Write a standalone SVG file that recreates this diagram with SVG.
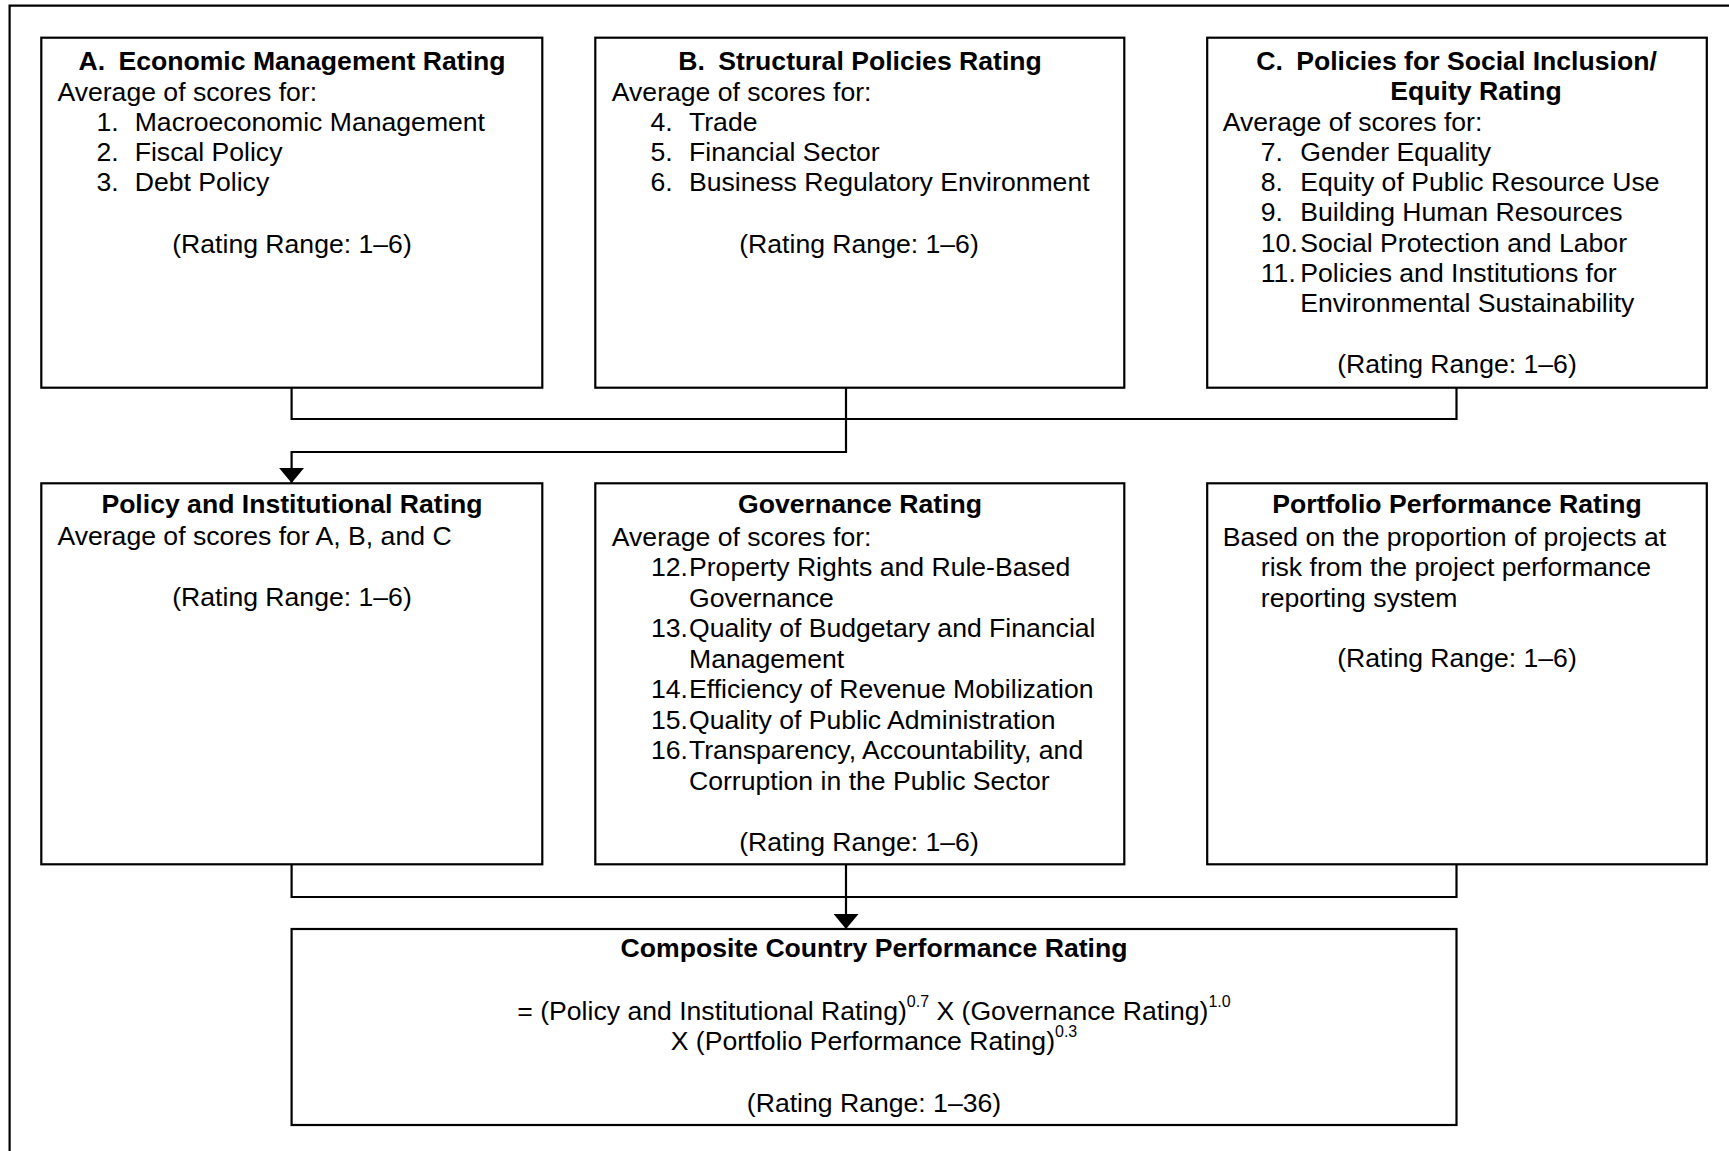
<svg xmlns="http://www.w3.org/2000/svg" width="1729" height="1151" viewBox="0 0 1729 1151">
<style>
text{font-family:"Liberation Sans",Arial,sans-serif;font-size:26.6px;fill:#000}
.b{font-weight:bold}
.m{text-anchor:middle}
.box{fill:#fff;stroke:#000;stroke-width:2.2}
.ln{fill:none;stroke:#000;stroke-width:2.2}
.sup{font-size:16px}
</style>
<defs>
<marker id="ah" markerUnits="userSpaceOnUse" viewBox="0 0 15 25" refX="15" refY="12.5" markerWidth="15" markerHeight="25" orient="auto">
<path d="M0,0 L15,12.5 L0,25 z" fill="#000"/>
</marker>
</defs>
<rect width="1729" height="1151" fill="#fff"/>
<g id="frame"><path class="ln" d="M9.6,1151 V5.7 H1729" stroke-width="2.4"/></g>

<g id="connectors">
<path class="ln" d="M291.6,388 V419 H1456.5 V388"/>
<path class="ln" d="M846,388 V452 H291.6 V483" marker-end="url(#ah)"/>
<path class="ln" d="M291.6,864 V897 H1456.5 V864"/>
<path class="ln" d="M846,864 V929" marker-end="url(#ah)"/>
</g>

<g id="nodeA">
<rect class="box" x="41.3" y="37.7" width="501" height="350"/>
<text class="b m" x="292" y="69.7">A.<tspan dx="6"> Economic Management Rating</tspan></text>
<text x="57.4" y="100.5">Average of scores for:</text>
<text x="96.5" y="130.7">1.</text><text x="134.7" y="130.7">Macroeconomic Management</text>
<text x="96.5" y="160.9">2.</text><text x="134.7" y="160.9">Fiscal Policy</text>
<text x="96.5" y="191.1">3.</text><text x="134.7" y="191.1">Debt Policy</text>
<text class="m" x="292" y="252.5">(Rating Range: 1–6)</text>
</g>

<g id="nodeB">
<rect class="box" x="595.3" y="37.7" width="529" height="350"/>
<text class="b m" x="860" y="69.7">B.<tspan dx="6"> Structural Policies Rating</tspan></text>
<text x="611.8" y="100.5">Average of scores for:</text>
<text x="650.5" y="130.7">4.</text><text x="689" y="130.7">Trade</text>
<text x="650.5" y="160.9">5.</text><text x="689" y="160.9">Financial Sector</text>
<text x="650.5" y="191.1">6.</text><text x="689" y="191.1">Business Regulatory Environment</text>
<text class="m" x="859" y="252.5">(Rating Range: 1–6)</text>
</g>

<g id="nodeC">
<rect class="box" x="1207.2" y="37.7" width="499.6" height="350"/>
<text class="b m" x="1456.5" y="69.7">C.<tspan dx="6"> Policies for Social Inclusion/</tspan></text>
<text class="b m" x="1476" y="99.5">Equity Rating</text>
<text x="1222.7" y="130.7">Average of scores for:</text>
<text x="1260.8" y="160.9">7.</text><text x="1300.3" y="160.9">Gender Equality</text>
<text x="1260.8" y="191.1">8.</text><text x="1300.3" y="191.1">Equity of Public Resource Use</text>
<text x="1260.8" y="221.3">9.</text><text x="1300.3" y="221.3">Building Human Resources</text>
<text x="1260.8" y="251.5">10.</text><text x="1300.3" y="251.5">Social Protection and Labor</text>
<text x="1260.8" y="281.7">11.</text><text x="1300.3" y="281.7">Policies and Institutions for</text>
<text x="1300.3" y="311.9">Environmental Sustainability</text>
<text class="m" x="1457" y="372.5">(Rating Range: 1–6)</text>
</g>

<g id="nodePolicy">
<rect class="box" x="41.3" y="483.3" width="501" height="381"/>
<text class="b m" x="292" y="513">Policy and Institutional Rating</text>
<text x="57.4" y="545.3">Average of scores for A, B, and C</text>
<text class="m" x="292" y="606">(Rating Range: 1–6)</text>
</g>

<g id="nodeGovernance">
<rect class="box" x="595.3" y="483.3" width="529" height="381"/>
<text class="b m" x="860" y="513">Governance Rating</text>
<text x="611.8" y="545.5">Average of scores for:</text>
<text x="651" y="576">12.</text><text x="689" y="576">Property Rights and Rule-Based</text>
<text x="689" y="606.5">Governance</text>
<text x="651" y="637">13.</text><text x="689" y="637">Quality of Budgetary and Financial</text>
<text x="689" y="667.5">Management</text>
<text x="651" y="698">14.</text><text x="689" y="698">Efficiency of Revenue Mobilization</text>
<text x="651" y="728.5">15.</text><text x="689" y="728.5">Quality of Public Administration</text>
<text x="651" y="759">16.</text><text x="689" y="759">Transparency, Accountability, and</text>
<text x="689" y="789.5">Corruption in the Public Sector</text>
<text class="m" x="859" y="850.5">(Rating Range: 1–6)</text>
</g>

<g id="nodePortfolio">
<rect class="box" x="1207.2" y="483.3" width="499.6" height="381"/>
<text class="b m" x="1457" y="513">Portfolio Performance Rating</text>
<text x="1222.7" y="545.5">Based on the proportion of projects at</text>
<text x="1260.8" y="576">risk from the project performance</text>
<text x="1260.8" y="606.5">reporting system</text>
<text class="m" x="1457" y="667">(Rating Range: 1–6)</text>
</g>

<g id="nodeComposite">
<rect class="box" x="291.6" y="929" width="1164.9" height="196"/>
<text class="b m" x="874" y="956.5">Composite Country Performance Rating</text>
<text class="m" x="874" y="1020">= (Policy and Institutional Rating)<tspan class="sup" dy="-13">0.7</tspan><tspan dy="13"> X (Governance Rating)</tspan><tspan class="sup" dy="-13">1.0</tspan></text>
<text class="m" x="874" y="1050">X (Portfolio Performance Rating)<tspan class="sup" dy="-13">0.3</tspan></text>
<text class="m" x="874" y="1111.5">(Rating Range: 1–36)</text>
</g>
</svg>
